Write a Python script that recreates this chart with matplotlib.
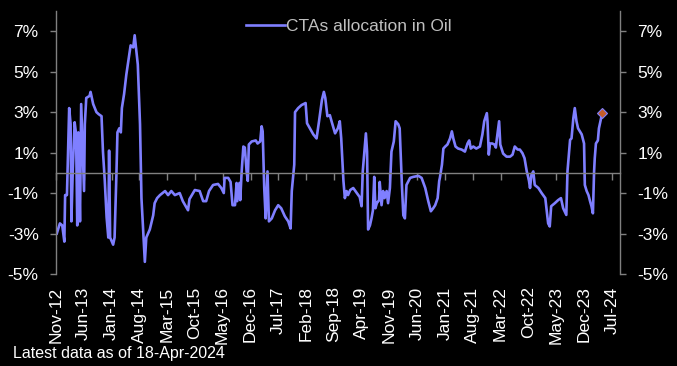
import pandas as pd
import numpy as np
import matplotlib.pyplot as plt
import matplotlib.dates as mdates
from matplotlib.ticker import FuncFormatter, FixedLocator

LINE_COL = '#7F7FFF'
MARK_COL = '#C45C28'
AXIS_COL = '#808080'

dates = [
    '2012-11-07', '2012-12-01', '2012-12-19', '2013-01-04', '2013-01-10', '2013-01-24',
    '2013-02-10', '2013-02-21', '2013-02-27', '2013-03-10', '2013-03-24', '2013-04-04',
    '2013-04-13', '2013-04-21', '2013-05-04', '2013-05-13', '2013-06-04', '2013-06-10',
    '2013-06-21', '2013-07-16', '2013-07-24', '2013-08-13', '2013-09-07', '2013-09-24',
    '2013-10-16', '2013-10-27', '2013-11-10', '2013-11-24', '2013-12-07', '2013-12-13',
    '2013-12-21', '2014-01-13', '2014-01-24', '2014-02-07', '2014-02-15', '2014-03-01',
    '2014-03-13', '2014-03-21', '2014-04-07', '2014-04-24', '2014-05-13', '2014-05-27',
    '2014-06-16', '2014-06-27', '2014-07-10', '2014-07-21', '2014-08-07', '2014-08-18',
    '2014-09-01', '2014-09-13', '2014-09-24', '2014-10-21', '2014-11-16', '2014-11-27',
    '2014-12-16', '2015-01-07', '2015-02-15', '2015-03-10', '2015-04-04', '2015-05-01',
    '2015-06-07', '2015-07-01', '2015-08-10', '2015-08-21', '2015-10-01', '2015-11-07',
    '2015-12-04', '2015-12-27', '2016-01-18', '2016-02-18', '2016-03-27', '2016-04-21',
    '2016-05-10', '2016-05-16', '2016-06-13', '2016-07-01', '2016-07-16', '2016-08-04',
    '2016-08-16', '2016-08-21', '2016-09-07', '2016-09-13', '2016-09-24', '2016-10-07',
    '2016-10-18', '2016-11-01', '2016-11-10', '2016-11-18', '2016-12-10', '2017-01-10',
    '2017-01-24', '2017-02-13', '2017-02-24', '2017-03-04', '2017-03-16', '2017-03-27',
    '2017-04-10', '2017-04-21', '2017-05-13', '2017-06-07', '2017-07-01', '2017-07-24',
    '2017-08-21', '2017-09-16', '2017-10-04', '2017-10-13', '2017-11-01', '2017-11-07',
    '2017-12-01', '2017-12-27', '2018-01-27', '2018-02-07', '2018-03-01', '2018-03-27',
    '2018-04-21', '2018-05-10', '2018-06-01', '2018-06-16', '2018-06-27', '2018-07-13',
    '2018-08-01', '2018-08-16', '2018-09-10', '2018-10-01', '2018-10-16', '2018-10-27',
    '2018-11-13', '2018-11-24', '2018-12-07', '2018-12-18', '2019-01-04', '2019-01-27',
    '2019-02-24', '2019-03-18', '2019-04-01', '2019-04-10', '2019-04-18', '2019-05-04',
    '2019-05-13', '2019-05-21', '2019-06-04', '2019-06-16', '2019-06-27', '2019-07-07',
    '2019-07-16', '2019-07-27', '2019-08-13', '2019-08-18', '2019-09-01', '2019-09-13',
    '2019-09-24', '2019-10-10', '2019-10-21', '2019-11-04', '2019-11-16', '2019-12-04',
    '2019-12-18', '2020-01-07', '2020-01-18', '2020-02-04', '2020-02-15', '2020-02-27',
    '2020-03-10', '2020-04-07', '2020-05-01', '2020-06-10', '2020-07-04', '2020-08-01',
    '2020-08-24', '2020-09-13', '2020-10-01', '2020-10-16', '2020-11-04', '2020-11-16',
    '2020-11-21', '2020-12-07', '2020-12-18', '2021-01-01', '2021-01-18', '2021-02-07',
    '2021-02-21', '2021-03-04', '2021-03-21', '2021-04-10', '2021-05-07', '2021-06-01',
    '2021-06-21', '2021-07-04', '2021-07-16', '2021-08-04', '2021-08-27', '2021-09-24',
    '2021-10-13', '2021-10-27', '2021-11-16', '2021-11-21', '2021-12-01', '2021-12-10',
    '2021-12-27', '2022-01-13', '2022-01-24', '2022-02-01', '2022-02-18', '2022-02-27',
    '2022-03-21', '2022-04-16', '2022-05-13', '2022-06-01', '2022-06-18', '2022-07-10',
    '2022-07-27', '2022-08-16', '2022-09-01', '2022-09-18', '2022-10-04', '2022-10-13',
    '2022-10-24', '2022-11-07', '2022-11-18', '2022-12-16', '2023-01-10', '2023-02-07',
    '2023-02-18', '2023-03-01', '2023-03-13', '2023-03-24', '2023-04-21', '2023-05-16',
    '2023-06-07', '2023-06-24', '2023-07-18', '2023-07-27', '2023-08-16', '2023-08-27',
    '2023-09-10', '2023-09-21', '2023-10-04', '2023-10-16', '2023-11-13', '2023-12-01',
    '2023-12-07', '2023-12-21', '2024-01-04', '2024-01-16', '2024-01-27', '2024-02-07',
    '2024-02-16', '2024-02-21', '2024-03-01', '2024-03-16', '2024-03-24', '2024-04-18',
]

# allocation in %
alloc = [
    -3.0, -2.5, -2.6, -3.4, -1.1, -1.1,
    3.2, 2.4, -2.4, 0.2, 2.5, 1.9,
    -2.6, 2.0, -2.4, 3.4, -0.9, 2.4,
    3.7, 3.8, 4.0, 3.4, 3.0, 2.9,
    2.8, 1.05, -0.4, -2.2, -3.2, 1.1,
    -3.2, -3.55, -3.2, -0.1, 2.0, 2.2,
    2.0, 3.2, 3.9, 4.85, 5.7, 6.3,
    6.2, 6.8, 6.0, 5.35, 2.4, -1.25,
    -2.9, -4.4, -3.2, -2.8, -2.1, -1.5,
    -1.25, -1.1, -0.9, -1.1, -0.9, -1.1,
    -1.0, -1.4, -1.85, -1.3, -0.85, -0.9,
    -1.4, -1.4, -0.9, -0.6, -0.55, -0.75,
    -1.0, -0.25, -0.25, -0.45, -1.6, -1.6,
    -0.5, -1.4, -0.5, -1.35, 0.07, 1.3,
    1.25, 0.07, -0.4, 1.4, 1.55, 1.6,
    1.45, 1.55, 2.3, 2.05, -0.75, -2.25,
    0.07, -2.4, -2.25, -1.85, -1.6, -1.75,
    -2.15, -2.4, -2.75, -0.9, 0.4, 3.0,
    3.2, 3.35, 3.45, 2.45, 2.2, 1.9,
    1.7, 2.55, 3.6, 4.0, 3.7, 2.8,
    2.85, 2.5, 1.95, 2.2, 2.55, 1.7,
    -0.4, -1.25, -0.9, -1.1, -0.85, -0.75,
    -1.0, -1.2, -1.65, 0.07, 0.7, 1.95,
    1.05, -2.8, -2.6, -2.25, -1.85, -0.2,
    -1.75, -1.5, -1.35, -0.45, -1.6, -0.9,
    -1.25, -0.9, -1.5, -0.75, 1.05, 1.55,
    2.55, 2.4, 2.2, -0.6, -2.1, -2.25,
    -0.6, -0.25, -0.2, -0.15, -0.25, -0.75,
    -1.4, -1.9, -1.75, -1.6, -1.25, -0.4,
    -0.25, 0.4, 1.2, 1.3, 1.4, 1.7,
    2.05, 1.7, 1.3, 1.2, 1.15, 1.05,
    1.45, 1.6, 1.2, 1.3, 1.2, 1.3,
    1.9, 2.55, 2.95, 2.55, 0.9, 1.45,
    1.45, 1.4, 1.25, 1.7, 2.55, 1.4,
    0.95, 0.8, 0.8, 0.9, 1.3, 1.15,
    1.15, 0.97, 0.72, 0.07, -0.35, -0.75,
    -0.1, 0.07, -0.6, -0.75, -1.0, -1.25,
    -1.9, -2.5, -2.65, -1.65, -1.5, -1.35,
    -1.25, -1.75, -2.08, 0.07, 1.63, 1.7,
    2.7, 3.2, 2.55, 2.2, 1.9, 1.45,
    -0.6, -0.9, -1.1, -1.4, -1.65, -2.0,
    0.07, 0.72, 1.45, 1.6, 2.2, 2.95,
]

yticks = [-5, -3, -1, 1, 3, 5, 7]
xticks = pd.date_range('2012-11-01', '2024-07-01', freq='7MS')

df = pd.DataFrame({'Date': pd.to_datetime(dates), 'alloc': alloc}).set_index('Date')

plt.rcParams['font.family'] = ['Liberation Sans', 'DejaVu Sans']

fig = plt.figure(figsize=(6.77, 3.66), dpi=100, facecolor='black')
ax = fig.add_axes([0.0827, 0.2514, 0.833, 0.7186], facecolor='black')

ax.plot(df.index, df['alloc'], color=LINE_COL, linewidth=1.9,
        label='CTAs allocation in Oil', solid_joinstyle='round')
ax.plot(df.index[-1:], df['alloc'].iloc[-1:], linestyle='none', marker='D',
        markersize=5.5, markerfacecolor=MARK_COL, markeredgecolor=LINE_COL,
        markeredgewidth=0.8)

ax.set_ylim(-5, 8)
ax.set_xlim(pd.Timestamp('2012-11-01'), pd.Timestamp('2024-09-01'))

pct = FuncFormatter(lambda v, p: '%d%%' % v)
ax.yaxis.set_major_locator(FixedLocator(yticks))
ax.yaxis.set_major_formatter(pct)

# x axis: ticks on the zero line, labels at the bottom
ax.set_xticks(xticks)
ax.xaxis.set_major_formatter(mdates.DateFormatter('%b-%y'))
ax.spines['bottom'].set_visible(False)
ax.spines['top'].set_position(('data', 0))
ax.spines['top'].set_color(AXIS_COL)
ax.spines['top'].set_linewidth(1.0)
ax.spines['right'].set_visible(False)
ax.spines['left'].set_color(AXIS_COL)
ax.spines['left'].set_linewidth(1.0)
ax.tick_params(axis='x', bottom=False, top=True, labelbottom=True, labeltop=False,
               direction='in', length=5, width=1, color=AXIS_COL, pad=9,
               labelcolor='white', labelsize=12.5, labelrotation=90)
ax.tick_params(axis='y', direction='out', length=4.5, width=1, color=AXIS_COL,
               pad=8, labelcolor='white', labelsize=12.5)

ax2 = ax.twinx()
ax2.set_ylim(ax.get_ylim())
ax2.yaxis.set_major_locator(FixedLocator(yticks))
ax2.yaxis.set_major_formatter(pct)
for s in ['top', 'bottom', 'left']:
    ax2.spines[s].set_visible(False)
ax2.spines['right'].set_color(AXIS_COL)
ax2.spines['right'].set_linewidth(1.0)
ax2.tick_params(axis='y', direction='out', length=4.5, width=1, color=AXIS_COL,
                pad=8, labelcolor='white', labelsize=12.5)

leg = ax.legend(loc='upper center', bbox_to_anchor=(0.52, 1.03), frameon=False,
                fontsize=12.5, handlelength=2.2, handletextpad=0.1)
for t in leg.get_texts():
    t.set_color('#BFBFBF')

fig.text(0.019, 0.035, 'Latest data as of 18-Apr-2024', color='white',
         fontsize=11.5, ha='left', va='center')

fig.savefig('out.png', dpi=100, facecolor='black')
